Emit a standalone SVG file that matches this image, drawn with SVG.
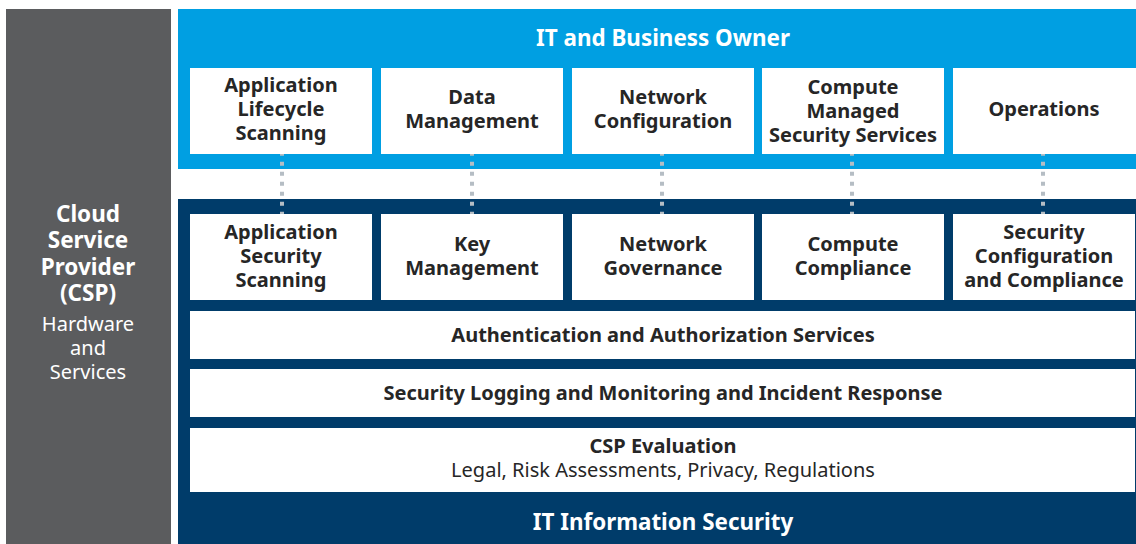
<svg xmlns="http://www.w3.org/2000/svg" width="1136" height="544" viewBox="0 0 1136 544">
<style>
.t{font-family:"Noto Sans","Open Sans","Liberation Sans",sans-serif;font-weight:bold;font-size:20px;fill:#262626;text-anchor:middle}
.r{font-weight:normal}
.w{fill:#ffffff}
.h{font-size:22.4px}
.l{font-size:22.5px}
.box{fill:#ffffff}
.dot{stroke:#b5bdc4;stroke-width:4;stroke-dasharray:4 6;stroke-dashoffset:2.3;fill:none}
</style>
<rect width="1136" height="544" fill="#ffffff"/>
<g id="csp">
<rect x="6" y="9" width="165" height="535" fill="#5b5c5e"/>
<text class="t w l" x="88" y="222">Cloud</text>
<text class="t w l" x="88" y="248">Service</text>
<text class="t w l" x="88" y="275">Provider</text>
<text class="t w l" x="88" y="301">(CSP)</text>
<text class="t w r" x="88" y="331">Hardware</text>
<text class="t w r" x="88" y="355">and</text>
<text class="t w r" x="88" y="379">Services</text>
</g>
<g id="owner">
<rect x="178" y="9" width="958" height="160" fill="#009fe2"/>
<text class="t w h" x="663" y="46">IT and Business Owner</text>
</g>
<g id="security">
<rect x="178" y="199" width="958" height="345" fill="#003c6a"/>
<text class="t w h" x="663" y="530">IT Information Security</text>
</g>
<g id="connectors">
<line class="dot" x1="282" y1="154" x2="282" y2="214"/>
<line class="dot" x1="472" y1="154" x2="472" y2="214"/>
<line class="dot" x1="662" y1="154" x2="662" y2="214"/>
<line class="dot" x1="852" y1="154" x2="852" y2="214"/>
<line class="dot" x1="1043" y1="154" x2="1043" y2="214"/>
</g>
<g id="app-lifecycle">
<rect class="box" x="190" y="68" width="182" height="86"/>
<text class="t" x="281" y="92">Application</text>
<text class="t" x="281" y="116">Lifecycle</text>
<text class="t" x="281" y="140">Scanning</text>
</g>
<g id="data-mgmt">
<rect class="box" x="381" y="68" width="182" height="86"/>
<text class="t" x="472" y="104">Data</text>
<text class="t" x="472" y="128">Management</text>
</g>
<g id="net-config">
<rect class="box" x="572" y="68" width="182" height="86"/>
<text class="t" x="663" y="104">Network</text>
<text class="t" x="663" y="128">Configuration</text>
</g>
<g id="compute-mss">
<rect class="box" x="762" y="68" width="182" height="86"/>
<text class="t" x="853" y="94">Compute</text>
<text class="t" x="853" y="118">Managed</text>
<text class="t" x="853" y="142">Security Services</text>
</g>
<g id="operations">
<rect class="box" x="953" y="68" width="183" height="86"/>
<text class="t" x="1044" y="116">Operations</text>
</g>
<g id="app-security">
<rect class="box" x="190" y="214" width="182" height="86"/>
<text class="t" x="281" y="239">Application</text>
<text class="t" x="281" y="263">Security</text>
<text class="t" x="281" y="287">Scanning</text>
</g>
<g id="key-mgmt">
<rect class="box" x="381" y="214" width="182" height="86"/>
<text class="t" x="472" y="251">Key</text>
<text class="t" x="472" y="275">Management</text>
</g>
<g id="net-gov">
<rect class="box" x="572" y="214" width="182" height="86"/>
<text class="t" x="663" y="251">Network</text>
<text class="t" x="663" y="275">Governance</text>
</g>
<g id="compute-compliance">
<rect class="box" x="762" y="214" width="182" height="86"/>
<text class="t" x="853" y="251">Compute</text>
<text class="t" x="853" y="275">Compliance</text>
</g>
<g id="sec-config">
<rect class="box" x="953" y="214" width="182" height="86"/>
<text class="t" x="1044" y="239">Security</text>
<text class="t" x="1044" y="263">Configuration</text>
<text class="t" x="1044" y="287">and Compliance</text>
</g>
<g id="auth">
<rect class="box" x="190" y="311" width="945" height="48"/>
<text class="t" x="663" y="342">Authentication and Authorization Services</text>
</g>
<g id="logging">
<rect class="box" x="190" y="369" width="945" height="48"/>
<text class="t" x="663" y="400">Security Logging and Monitoring and Incident Response</text>
</g>
<g id="csp-eval">
<rect class="box" x="190" y="428" width="945" height="64"/>
<text class="t" x="663" y="453">CSP Evaluation</text>
<text class="t r" x="663" y="477">Legal, Risk Assessments, Privacy, Regulations</text>
</g>
</svg>
